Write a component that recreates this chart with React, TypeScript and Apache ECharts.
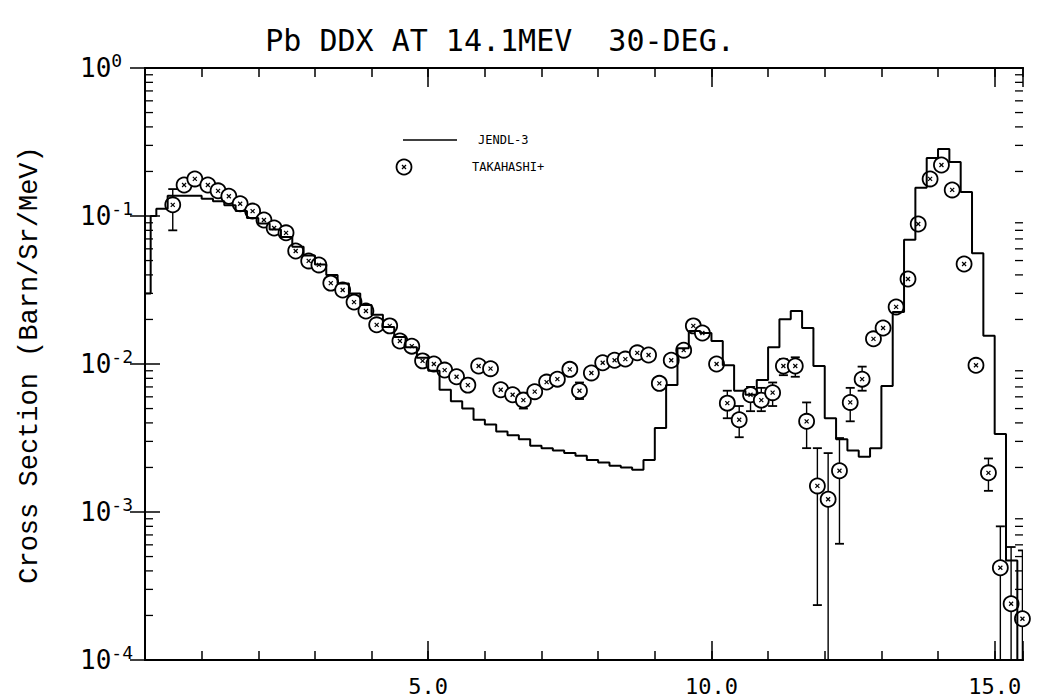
import React, { useEffect, useRef } from 'react';
import * as echarts from 'echarts';

const TITLE = 'Pb DDX AT 14.1MEV  30-DEG.';
const Y_NAME = 'Cross Section (Barn/Sr/MeV)';
const X_LABELED = [5, 10, 15];
const LEGEND_LINE = 'JENDL-3';
const LEGEND_POINTS = 'TAKAHASHI+';

// JENDL-3 histogram: lower bin edges (MeV) and values (b/sr/MeV)
const jendlEdges = [
  0.0, 0.1, 0.2, 0.4, 1.0, 1.2, 1.4, 1.6, 1.8, 2.0, 2.2, 2.4, 2.6, 2.8, 3.0, 3.2, 3.4, 3.6, 3.8,
  4.0, 4.2, 4.4, 4.6, 4.8, 5.0, 5.2, 5.4, 5.6, 5.8, 6.0, 6.2, 6.4, 6.6, 6.8, 7.0, 7.2, 7.4, 7.6,
  7.8, 8.0, 8.2, 8.4, 8.6, 8.8, 9.0, 9.2, 9.4, 9.6, 9.8, 10.0, 10.2, 10.4, 10.6, 10.8, 11.0,
  11.2, 11.4, 11.6, 11.8, 12.0, 12.2, 12.4, 12.6, 12.8, 13.0, 13.2, 13.4, 13.6, 13.8, 14.0,
  14.2, 14.4, 14.6, 14.8, 15.0, 15.2,
];
const jendlValues = [
  0.03, 0.1, 0.112, 0.137, 0.131, 0.126, 0.118, 0.108, 0.097, 0.089, 0.081, 0.072, 0.062, 0.054,
  0.047, 0.04, 0.035, 0.03, 0.025, 0.0215, 0.0178, 0.0152, 0.013, 0.011, 0.009, 0.0067, 0.0056,
  0.005, 0.0042, 0.0039, 0.0035, 0.0033, 0.0031, 0.0028, 0.0027, 0.0026, 0.0025, 0.0024, 0.00225,
  0.00216, 0.00205, 0.002, 0.00193, 0.00225, 0.0037, 0.0072, 0.0128, 0.0167, 0.0162, 0.0143,
  0.0098, 0.0066, 0.0062, 0.0078, 0.013, 0.0201, 0.0228, 0.0175, 0.0097, 0.0043, 0.0031, 0.0026,
  0.00236, 0.0027, 0.0071, 0.0225, 0.069, 0.155, 0.247, 0.284, 0.232, 0.145, 0.056, 0.0155,
  0.00337, 0.00047,
];
const JENDL_END = 15.4;
const JENDL_TAIL = 1e-6;

// TAKAHASHI+ measurement
const expEnergy = [
  0.49, 0.69, 0.88, 1.11, 1.29, 1.48, 1.68, 1.9, 2.1, 2.28, 2.49, 2.66, 2.89, 3.07, 3.28, 3.49,
  3.69, 3.9, 4.09, 4.32, 4.5, 4.71, 4.9, 5.1, 5.29, 5.5, 5.7, 5.89, 6.1, 6.28, 6.49, 6.68, 6.88,
  7.09, 7.28, 7.5, 7.67, 7.88, 8.08, 8.29, 8.48, 8.69, 8.89, 9.08, 9.29, 9.51, 9.68, 9.84, 10.09,
  10.28, 10.49, 10.69, 10.88, 11.08, 11.27, 11.48, 11.68, 11.87, 12.06, 12.26, 12.45, 12.66,
  12.86, 13.03, 13.26, 13.47, 13.65, 13.86, 14.06, 14.25, 14.46, 14.67, 14.89, 15.1, 15.29, 15.49,
];
const expValue = [
  0.119, 0.162, 0.178, 0.162, 0.148, 0.136, 0.121, 0.108, 0.094, 0.083, 0.077, 0.058, 0.0497,
  0.0467, 0.0352, 0.0316, 0.0262, 0.0228, 0.0184, 0.0181, 0.0143, 0.0132, 0.0105, 0.01, 0.0091,
  0.0082, 0.0072, 0.0097, 0.0093, 0.0067, 0.0062, 0.0057, 0.0065, 0.00755, 0.0079, 0.0092, 0.0066,
  0.0087, 0.0102, 0.0106, 0.0108, 0.0119, 0.0115, 0.0074, 0.0106, 0.0124, 0.0181, 0.0162, 0.01,
  0.00544, 0.0042, 0.0062, 0.0057, 0.0064, 0.0097, 0.0097, 0.0041, 0.0015, 0.00122, 0.0019,
  0.0055, 0.0079, 0.0148, 0.0175, 0.0243, 0.0375, 0.0883, 0.178, 0.221, 0.15, 0.0474, 0.0098,
  0.00184, 0.00042, 0.00024, 0.00019,
];
// error bars (null = hidden inside the marker)
const expLow: (number | null)[] = [
  0.08, null, null, null, null, null, null, null, null, null, null, null, null, null, null, null,
  null, null, null, null, null, null, null, null, null, null, null, null, null, null, null, 0.005,
  null, null, null, null, 0.0058, null, null, null, null, null, null, null, null, null, null, null,
  null, 0.0043, 0.0032, 0.0048, 0.0048, 0.0052, 0.0084, 0.0082, 0.0027, 0.000235, 0.0001, 0.00061,
  0.0041, 0.0066, null, null, null, null, null, null, null, null, null, null, 0.00139, 0.0001,
  0.0001, 0.0001,
];
const expHigh: (number | null)[] = [
  0.152, null, null, null, null, null, null, null, null, null, null, null, null, null, null, null,
  null, null, null, null, null, null, null, null, null, null, null, null, null, null, null, 0.0064,
  null, null, null, null, 0.0075, null, null, null, null, null, null, null, null, null, null, null,
  null, 0.0066, 0.0052, 0.007, 0.0069, 0.0075, 0.0108, 0.0111, 0.0055, 0.0027, 0.0025, 0.00316,
  0.0069, 0.0096, null, null, null, null, null, null, null, null, null, null, 0.0023, 0.0008,
  0.00058, 0.00055,
];

const DECADES = [1e-4, 1e-3, 1e-2, 1e-1];
const MINOR_MULT = [2, 3, 4, 5, 6, 7, 8, 9];

const MONO = 'DejaVu Sans Mono';
const R = 7.5;

export default function App() {
  const ref = useRef<HTMLDivElement>(null);

  useEffect(() => {
    document.body.style.margin = '0';
    if (!ref.current) return;
    const chart = echarts.init(ref.current, null, { renderer: 'svg' });

    const histData = jendlEdges.map((e, i) => [e, jendlValues[i]]);
    histData.push([JENDL_END, JENDL_TAIL]);

    const pointData = expEnergy.map((e, i) => [e, expValue[i]]);
    const barData: number[][] = [];
    expEnergy.forEach((e, i) => {
      const lo = expLow[i];
      const hi = expHigh[i];
      if (lo != null && hi != null) barData.push([e, expValue[i], lo, hi]);
    });

    const minorTicks: number[][] = [];
    DECADES.forEach((d) => MINOR_MULT.forEach((m) => minorTicks.push([0, m * d])));

    const blk = '#000';
    const xBase = {
      type: 'value',
      min: 0,
      max: 15.5,
      splitLine: { show: false },
      axisLine: { show: true, lineStyle: { color: blk, width: 2 } },
    };

    const marker = (cx: number, cy: number) => {
      const d = 2;
      const st = { stroke: blk, lineWidth: 1.2 };
      return [
        { type: 'circle', shape: { cx, cy, r: R }, style: { fill: '#fff', stroke: blk, lineWidth: 1.8 } },
        { type: 'line', shape: { x1: cx - d, y1: cy - d, x2: cx + d, y2: cy + d }, style: st },
        { type: 'line', shape: { x1: cx - d, y1: cy + d, x2: cx + d, y2: cy - d }, style: st },
      ];
    };

    const option: any = {
      animation: false,
      backgroundColor: '#fff',
      grid: { left: 145, right: 28, top: 68, bottom: 37 },
      xAxis: [
        {
          ...xBase,
          position: 'bottom',
          interval: 1,
          axisTick: { inside: true, length: 9, lineStyle: { color: blk, width: 1.5 } },
          axisLabel: { show: false },
        },
        {
          ...xBase,
          position: 'bottom',
          interval: 5,
          axisTick: { inside: true, length: 19, lineStyle: { color: blk, width: 1.5 } },
          axisLabel: {
            show: true,
            margin: 15,
            color: blk,
            fontFamily: MONO,
            fontSize: 22,
            formatter: (v: number) => (X_LABELED.indexOf(v) >= 0 ? v.toFixed(1) : ''),
          },
        },
        {
          ...xBase,
          position: 'top',
          interval: 1,
          axisTick: { inside: true, length: 9, lineStyle: { color: blk, width: 1.5 } },
          axisLabel: { show: false },
        },
        {
          ...xBase,
          position: 'top',
          interval: 5,
          axisTick: { inside: true, length: 19, lineStyle: { color: blk, width: 1.5 } },
          axisLabel: { show: false },
        },
      ],
      yAxis: [
        {
          type: 'log',
          logBase: 10,
          min: 1e-4,
          max: 1,
          position: 'left',
          splitLine: { show: false },
          axisLine: { show: true, lineStyle: { color: blk, width: 2 } },
          axisTick: { inside: true, length: 15, lineStyle: { color: blk, width: 1.5 } },
          axisLabel: {
            show: true,
            align: 'left',
            margin: 65,
            color: blk,
            formatter: (v: number) => `{b|10}{s|${Math.round(Math.log10(v))}}`,
            rich: {
              b: { fontFamily: MONO, fontSize: 26, lineHeight: 34, color: blk },
              s: { fontFamily: MONO, fontSize: 18, lineHeight: 18, verticalAlign: 'top', color: blk },
            },
          },
        },
        {
          type: 'log',
          logBase: 10,
          min: 1e-4,
          max: 1,
          position: 'right',
          splitLine: { show: false },
          axisLine: { show: true, lineStyle: { color: blk, width: 2 } },
          axisTick: { inside: true, length: 15, lineStyle: { color: blk, width: 1.5 } },
          axisLabel: { show: false },
        },
      ],
      series: [
        {
          type: 'custom',
          name: 'minor',
          xAxisIndex: 0,
          yAxisIndex: 0,
          silent: true,
          clip: false,
          data: minorTicks,
          renderItem: (params: any, api: any) => {
            const cs = params.coordSys;
            const y = api.coord([0, api.value(1)])[1];
            const st = { stroke: blk, lineWidth: 1.3 };
            return {
              type: 'group',
              children: [
                { type: 'line', shape: { x1: cs.x, y1: y, x2: cs.x + 8, y2: y }, style: st },
                {
                  type: 'line',
                  shape: { x1: cs.x + cs.width - 8, y1: y, x2: cs.x + cs.width, y2: y },
                  style: st,
                },
              ],
            };
          },
        },
        {
          type: 'line',
          name: LEGEND_LINE,
          xAxisIndex: 0,
          yAxisIndex: 0,
          step: 'end',
          showSymbol: false,
          symbol: 'none',
          clip: true,
          lineStyle: { color: blk, width: 2 },
          data: histData,
        },
        {
          type: 'custom',
          name: 'errors',
          xAxisIndex: 0,
          yAxisIndex: 0,
          clip: true,
          data: barData,
          renderItem: (params: any, api: any) => {
            const x = api.value(0);
            const lo = api.value(2);
            const hi = api.value(3);
            const pLo = api.coord([x, lo]);
            const pHi = api.coord([x, hi]);
            const st = { stroke: blk, lineWidth: 1.4 };
            const cw = 4.5;
            const children: any[] = [
              { type: 'line', shape: { x1: pHi[0], y1: pHi[1], x2: pLo[0], y2: pLo[1] }, style: st },
              {
                type: 'line',
                shape: { x1: pHi[0] - cw, y1: pHi[1], x2: pHi[0] + cw, y2: pHi[1] },
                style: { stroke: blk, lineWidth: 1.8 },
              },
            ];
            if (lo > 1.0001e-4) {
              children.push({
                type: 'line',
                shape: { x1: pLo[0] - cw, y1: pLo[1], x2: pLo[0] + cw, y2: pLo[1] },
                style: { stroke: blk, lineWidth: 1.8 },
              });
            }
            return { type: 'group', children };
          },
        },
        {
          type: 'custom',
          name: LEGEND_POINTS,
          xAxisIndex: 0,
          yAxisIndex: 0,
          clip: false,
          data: pointData,
          renderItem: (params: any, api: any) => {
            const p = api.coord([api.value(0), api.value(1)]);
            return { type: 'group', children: marker(p[0], p[1]) };
          },
        },
      ],
      graphic: [
        {
          type: 'text',
          x: 500,
          y: 40,
          style: {
            text: TITLE,
            font: `30px ${MONO}`,
            fill: blk,
            textAlign: 'center',
            textVerticalAlign: 'middle',
            align: 'center',
            verticalAlign: 'middle',
          },
        },
        {
          type: 'text',
          x: 30,
          y: 365,
          rotation: Math.PI / 2,
          style: {
            text: Y_NAME,
            font: '27px Liberation Mono',
            fill: blk,
            textAlign: 'center',
            textVerticalAlign: 'middle',
            align: 'center',
            verticalAlign: 'middle',
          },
        },
        {
          type: 'line',
          shape: { x1: 403, y1: 140, x2: 457, y2: 140 },
          style: { stroke: blk, lineWidth: 1.6 },
        },
        {
          type: 'text',
          x: 478,
          y: 140,
          style: {
            text: LEGEND_LINE,
            font: `12px ${MONO}`,
            fill: blk,
            textAlign: 'left',
            textVerticalAlign: 'middle',
            align: 'left',
            verticalAlign: 'middle',
          },
        },
        {
          type: 'group',
          children: marker(404, 167),
        },
        {
          type: 'text',
          x: 472,
          y: 167,
          style: {
            text: LEGEND_POINTS,
            font: `12px ${MONO}`,
            fill: blk,
            textAlign: 'left',
            textVerticalAlign: 'middle',
            align: 'left',
            verticalAlign: 'middle',
          },
        },
      ],
    };

    chart.setOption(option);
    return () => chart.dispose();
  }, []);

  return <div ref={ref} style={{ width: 1051, height: 697, background: '#fff' }} />;
}
